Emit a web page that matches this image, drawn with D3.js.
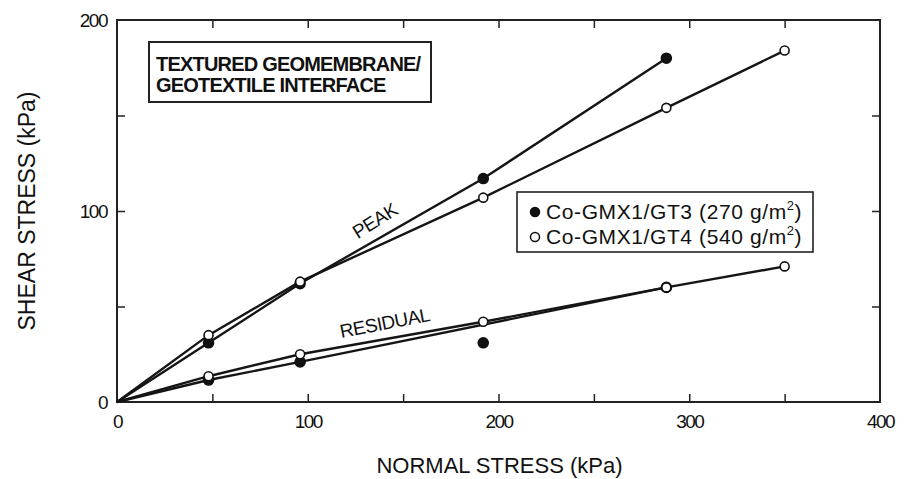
<!DOCTYPE html>
<html>
<head>
<meta charset="utf-8">
<script src="https://cdn.jsdelivr.net/npm/d3@7"></script>
<style>
  body { margin: 0; background: #fff; }
  svg { font-family: "Liberation Sans", Arial, sans-serif; }
</style>
</head>
<body>
<svg id="chart" width="904" height="479"></svg>
<script>
// normal stress levels (kPa)
var normalStress = [0, 48, 96, 192, 288, 350];

// shear stress (kPa)
var gt3Peak = [0, 31, 62, 117, 180];
var gt4Peak = [0, 35, 63, 107, 154, 184];
var gt3Residual = [0, 11.5, 21, 31, 60];
var gt4Residual = [0, 13.5, 25, 42, 60, 71];
// the GT3 residual point at 192 kPa sits off its line
var gt3ResidualSkip = [3];

var xTicks = [0, 100, 200, 300, 400];
var yTicks = [0, 100, 200];
var legendLabels = ['Co-GMX1/GT3 (270 g/m', 'Co-GMX1/GT4 (540 g/m'];

var svg = d3.select('#chart');
var margin = { top: 20, right: 24, bottom: 77, left: 117 };
var width = 904 - margin.left - margin.right;
var height = 479 - margin.top - margin.bottom;

var x = d3.scaleLinear().domain([0, 400]).range([0, width]);
var y = d3.scaleLinear().domain([0, 200]).range([height, 0]);

var g = svg.append('g')
  .attr('transform', 'translate(' + margin.left + ',' + margin.top + ')');

// frame
g.append('rect')
  .attr('width', width)
  .attr('height', height)
  .attr('fill', 'none')
  .attr('stroke', '#222')
  .attr('stroke-width', 2);

// inward ticks on all four sides
var tickLen = 8;
var xMinor = d3.range(50, 400, 50);
var yMinor = d3.range(50, 200, 50);
function tickSide(axis, scale, vals) {
  return axis(scale).tickValues(vals).tickSize(-tickLen).tickFormat('');
}
g.append('g').attr('transform', 'translate(0,' + height + ')')
  .call(tickSide(d3.axisBottom, x, xMinor));
g.append('g')
  .call(tickSide(d3.axisTop, x, xMinor));
g.append('g')
  .call(tickSide(d3.axisLeft, y, yMinor));
g.append('g').attr('transform', 'translate(' + width + ',0)')
  .call(tickSide(d3.axisRight, y, yMinor));
g.selectAll('.domain').remove();
g.selectAll('.tick line').attr('stroke', '#222').attr('stroke-width', 1.5);

// tick labels
var xLab = g.append('g').attr('transform', 'translate(0,' + height + ')')
  .call(d3.axisBottom(x).tickValues(xTicks).tickSize(0).tickPadding(13));
var yLab = g.append('g')
  .call(d3.axisLeft(y).tickValues(yTicks).tickSize(0).tickPadding(10));
[xLab, yLab].forEach(function (a) {
  a.select('.domain').remove();
  a.selectAll('text').attr('font-size', 19).attr('fill', '#111')
    .attr('font-family', '"Liberation Sans", Arial, sans-serif')
    .style('letter-spacing', '-1.5px');
});

// axis titles
svg.append('text')
  .attr('x', margin.left + x(200) + 1)
  .attr('y', 473)
  .attr('text-anchor', 'middle')
  .attr('font-size', 22)
  .attr('fill', '#111')
  .text('NORMAL STRESS (kPa)');
svg.append('text')
  .attr('transform', 'translate(35,' + (margin.top + y(100)) + ') rotate(-90)')
  .attr('text-anchor', 'middle')
  .attr('font-size', 23)
  .attr('fill', '#111')
  .text('SHEAR STRESS (kPa)');

// series lines
var line = d3.line()
  .x(function (d) { return x(d.x); })
  .y(function (d) { return y(d.y); });

function pts(vals, skip) {
  return vals.map(function (v, i) {
    return { x: normalStress[i], y: v, skip: skip && skip.indexOf(i) >= 0 };
  });
}

var series = [
  { name: 'gt3peak', filled: true, values: pts(gt3Peak) },
  { name: 'gt4peak', filled: false, values: pts(gt4Peak) },
  { name: 'gt3res', filled: true, values: pts(gt3Residual, gt3ResidualSkip) },
  { name: 'gt4res', filled: false, values: pts(gt4Residual) }
];

series.forEach(function (s) {
  g.append('path')
    .attr('d', line(s.values.filter(function (d) { return !d.skip; })))
    .attr('fill', 'none')
    .attr('stroke', '#151515')
    .attr('stroke-width', 2.4);
});

series.forEach(function (s) {
  g.selectAll('.pt-' + s.name)
    .data(s.values.filter(function (d) { return d.x > 0; }))
    .enter()
    .append('circle')
    .attr('cx', function (d) { return x(d.x); })
    .attr('cy', function (d) { return y(d.y); })
    .attr('r', s.filled ? 5 : 4.5)
    .attr('fill', s.filled ? '#111' : '#fff')
    .attr('stroke', '#111')
    .attr('stroke-width', 1.6);
});

// line labels
g.append('text')
  .attr('transform', 'translate(' + x(137) + ',' + y(92) + ') rotate(-32)')
  .attr('text-anchor', 'middle')
  .attr('font-size', 19)
  .attr('fill', '#111')
  .style('letter-spacing', '-0.5px')
  .text('PEAK');
g.append('text')
  .attr('transform', 'translate(' + x(141) + ',' + y(38) + ') rotate(-11)')
  .attr('text-anchor', 'middle')
  .attr('font-size', 19)
  .attr('fill', '#111')
  .style('letter-spacing', '-0.5px')
  .text('RESIDUAL');

// title box
var tb = svg.append('g').attr('transform', 'translate(149,42)');
tb.append('rect')
  .attr('width', 282).attr('height', 60)
  .attr('fill', '#fff').attr('stroke', '#222').attr('stroke-width', 2);
tb.append('text').attr('x', 7).attr('y', 29)
  .attr('font-size', 20).attr('font-weight', 'bold').attr('fill', '#111')
  .style('letter-spacing', '-0.8px')
  .text('TEXTURED GEOMEMBRANE/');
tb.append('text').attr('x', 7).attr('y', 50)
  .attr('font-size', 20).attr('font-weight', 'bold').attr('fill', '#111')
  .style('letter-spacing', '-0.8px')
  .text('GEOTEXTILE INTERFACE');

// legend
var lg = svg.append('g').attr('transform', 'translate(517,192)');
lg.append('rect')
  .attr('width', 296).attr('height', 60)
  .attr('fill', '#fff').attr('stroke', '#222').attr('stroke-width', 1.6);
legendLabels.forEach(function (lab, i) {
  var cy = 20 + i * 25;
  lg.append('circle')
    .attr('cx', 18).attr('cy', cy).attr('r', 4.5)
    .attr('fill', i === 0 ? '#111' : '#fff')
    .attr('stroke', '#111').attr('stroke-width', 1.5);
  var t = lg.append('text').attr('x', 29).attr('y', cy + 7)
    .attr('font-size', 21).attr('fill', '#111')
    .style('letter-spacing', '0.6px');
  t.append('tspan').text(lab);
  t.append('tspan').attr('dy', -9).attr('font-size', 13).text('2');
  t.append('tspan').attr('dy', 9).text(')');
});
</script>
</body>
</html>
